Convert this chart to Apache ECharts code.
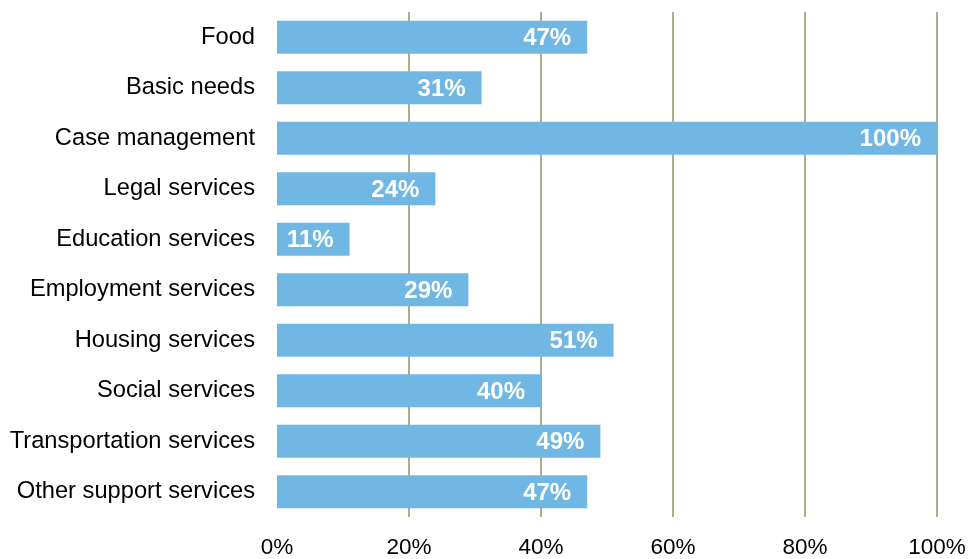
<!DOCTYPE html>
<html>
<head>
<meta charset="utf-8">
<style>
  html, body { margin: 0; padding: 0; background: #ffffff; }
  #chart { width: 971px; height: 559px; }
</style>
<script src="https://cdn.jsdelivr.net/npm/echarts@6/dist/echarts.min.js"></script>
</head>
<body>
<div id="chart"></div>
<script>
// Service categories, listed top to bottom
const categories = [
  'Food',
  'Basic needs',
  'Case management',
  'Legal services',
  'Education services',
  'Employment services',
  'Housing services',
  'Social services',
  'Transportation services',
  'Other support services'
];

// Share of programs offering each service (percent)
const shares = [47, 31, 100, 24, 11, 29, 51, 40, 49, 47];

// Value axis ticks
const axisMin = 0;
const axisMax = 100;
const axisStep = 20;

const chart = echarts.init(document.getElementById('chart'), null, { renderer: 'canvas' });

const FONT = '"Liberation Sans", Arial, sans-serif';

chart.setOption({
  animation: false,
  backgroundColor: '#ffffff',
  grid: { left: 277, right: 34, top: 12, bottom: 41, containLabel: false },
  xAxis: {
    type: 'value',
    min: axisMin,
    max: axisMax,
    interval: axisStep,
    axisLine: { show: false },
    axisTick: { show: false },
    axisLabel: {
      formatter: v => v + '%',
      color: '#000000',
      fontFamily: FONT,
      fontSize: 22.5,
      margin: 19
    },
    splitLine: {
      show: true,
      showMinLine: false,
      lineStyle: { color: '#adae88', width: 2 }
    }
  },
  yAxis: {
    type: 'category',
    inverse: true,
    data: categories,
    axisLine: { show: false },
    axisTick: { show: false },
    axisLabel: {
      color: '#000000',
      fontFamily: FONT,
      fontSize: 23.7,
      margin: 22
    }
  },
  series: [{
    type: 'bar',
    data: shares,
    barCategoryGap: '35%',
    itemStyle: { color: '#71b7e4' },
    label: {
      show: true,
      position: 'insideRight',
      distance: 16,
      offset: [0, 1.5],
      formatter: p => p.value + '%',
      color: '#ffffff',
      fontFamily: FONT,
      fontWeight: 'bold',
      fontSize: 24
    }
  }]
});
</script>
</body>
</html>
